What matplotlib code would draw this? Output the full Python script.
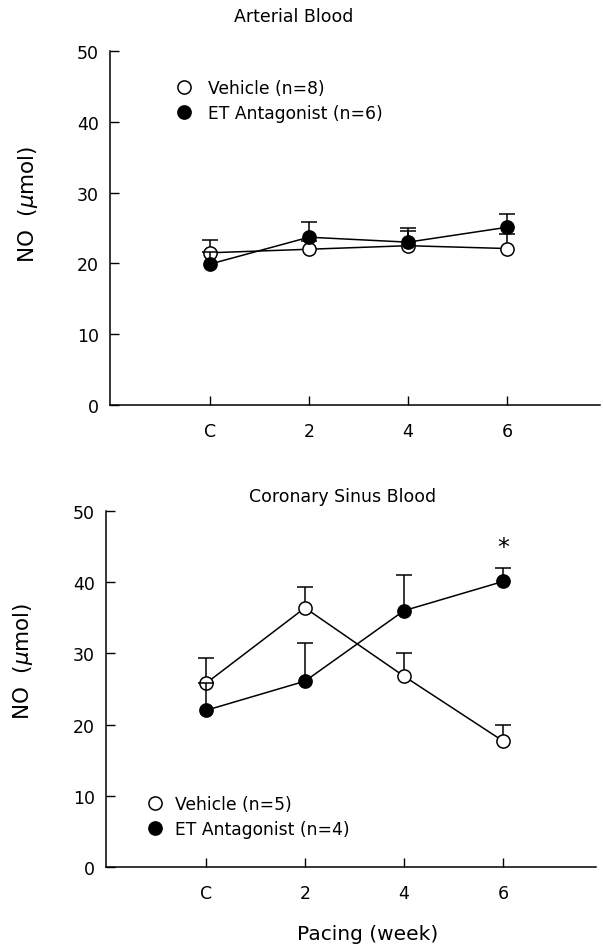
import matplotlib
matplotlib.use("Agg")
import matplotlib.pyplot as plt
from matplotlib.lines import Line2D

plt.rcParams['font.family'] = ['DejaVu Sans']
plt.rcParams['mathtext.fontset'] = 'dejavusans'

# ---- data ----
categories = ["C", "2", "4", "6"]
weeks = [0, 2, 4, 6]

art_vehicle = [21.5, 22.0, 22.5, 22.1]
art_vehicle_sem = [1.8, 1.2, 2.1, 2.0]
art_et = [19.9, 23.7, 23.0, 25.1]
art_et_sem = [1.7, 2.1, 2.0, 1.9]

cs_vehicle = [25.8, 36.4, 26.8, 17.7]
cs_vehicle_sem = [3.5, 2.9, 3.2, 2.3]
cs_et = [22.0, 26.1, 36.0, 40.1]
cs_et_sem = [3.8, 5.4, 5.0, 1.9]

art_labels = ["Vehicle (n=8)", "ET Antagonist (n=6)"]
cs_labels = ["Vehicle (n=5)", "ET Antagonist (n=4)"]
titles = ["Arterial Blood", "Coronary Sinus Blood"]
yticks = [0, 10, 20, 30, 40, 50]
star_index = 3
star_y = 44.9

W, H = 603, 945
fig = plt.figure(figsize=(W / 100, H / 100), dpi=100)

def px_axes(left, top, right, bottom):
    return fig.add_axes([left / W, 1 - bottom / H, (right - left) / W, (bottom - top) / H])

ax1 = px_axes(110, 52, 600, 406)
ax2 = px_axes(106, 512, 596, 868)

ms = 9.5
lw = 1.1
cs = 6

def draw(ax, veh, veh_sem, et, et_sem):
    zeros = [0] * len(weeks)
    eb = ax.errorbar(weeks, veh, yerr=[zeros, veh_sem], fmt='none', ecolor='black',
                     elinewidth=lw, capsize=cs, capthick=lw, zorder=2)
    eb[1][0].set_visible(False)
    ax.plot(weeks, veh, color='black', lw=lw, marker='o', ms=ms, mfc='white',
            mec='black', mew=lw, zorder=3)
    eb = ax.errorbar(weeks, et, yerr=[zeros, et_sem], fmt='none', ecolor='black',
                     elinewidth=lw, capsize=cs, capthick=lw, zorder=4)
    eb[1][0].set_visible(False)
    ax.plot(weeks, et, color='black', lw=lw, marker='o', ms=ms, mfc='black',
            mec='black', mew=lw, zorder=5)

draw(ax1, art_vehicle, art_vehicle_sem, art_et, art_et_sem)
draw(ax2, cs_vehicle, cs_vehicle_sem, cs_et, cs_et_sem)

for ax in (ax1, ax2):
    ax.set_xlim(-2.02, 7.88)
    ax.set_ylim(0, 50)
    ax.set_xticks(weeks)
    ax.set_xticklabels(categories)
    ax.set_yticks(yticks)
    for s in ('top', 'right'):
        ax.spines[s].set_visible(False)
    for s in ('left', 'bottom'):
        ax.spines[s].set_linewidth(1.1)
    ax.tick_params(direction='in', length=6.5, width=1.0, labelsize=12.5)
    ax.tick_params(axis='x', pad=12)
    ax.tick_params(axis='y', pad=8)
    ax.set_ylabel(r"NO  ($\mu$mol)", fontsize=15.5)

ax1.yaxis.set_label_coords(-0.143, 0.57)
ax2.yaxis.set_label_coords(-0.145, 0.58)

def legend(ax, labels, anchor, pad):
    handles = [
        Line2D([], [], ls='none', marker='o', ms=ms, mfc='white', mec='black', mew=lw),
        Line2D([], [], ls='none', marker='o', ms=ms, mfc='black', mec='black', mew=lw),
    ]
    ax.legend(handles, labels, loc='upper left', bbox_to_anchor=anchor, frameon=False,
              fontsize=12.3, handlelength=1.0, handletextpad=pad, borderpad=0,
              borderaxespad=0, labelspacing=0.42)

legend(ax1, art_labels, (0.133, 0.922), 0.95)
legend(ax2, cs_labels, (0.082, 0.203), 0.7)

ax2.text(weeks[star_index], star_y, "*", ha='center', va='center', fontsize=17)

fig.text(294 / W, 1 - 17 / H, titles[0], ha='center', va='center', fontsize=12.5)
fig.text(343 / W, 1 - 497 / H, titles[1], ha='center', va='center', fontsize=12.5)
fig.text(368 / W, 1 - 935 / H, "Pacing (week)", ha='center', va='center', fontsize=14.5)

fig.savefig("out.png", dpi=100)
